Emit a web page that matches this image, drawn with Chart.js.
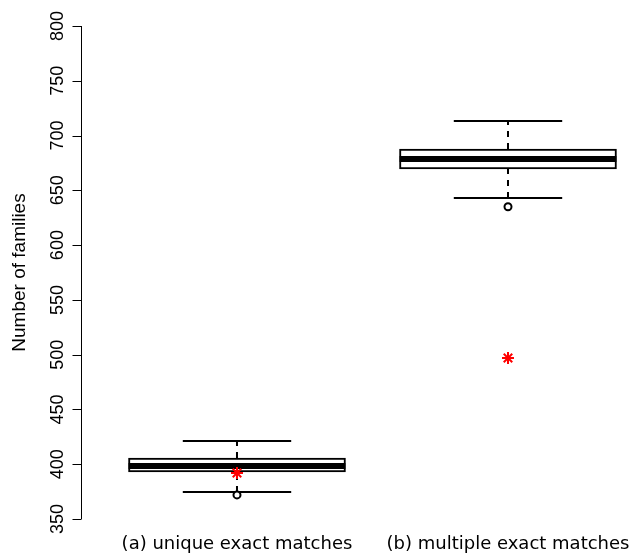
<!DOCTYPE html>
<html>
<head>
<meta charset="utf-8">
<script src="https://cdn.jsdelivr.net/npm/chart.js@4/dist/chart.umd.min.js"></script>
<style>
html,body{margin:0;padding:0;background:#fff;overflow:hidden;}
canvas{display:block;}
</style>
</head>
<body>
<canvas id="c" width="629" height="556"></canvas>
<script>
// ---- data ----
const categories = ['(a) unique exact matches', '(b) multiple exact matches'];
const whiskerLow  = [374.6, 643.0];
const q1          = [392.9, 669.5];
const medians     = [398.4, 678.6];
const q3          = [405.7, 687.7];
const whiskerHigh = [421.2, 713.3];
const outliers    = [[372.0], [635.0]];
const means       = [392.0, 497.0];
const yTicks      = [350, 400, 450, 500, 550, 600, 650, 700, 750, 800];
const yTitle      = 'Number of families';

const BOX_HALF = 0.4, CAP_HALF = 0.2;

const datasets = [];
// boxes (floating bars)
datasets.push({
  type: 'bar',
  order: 10,
  data: categories.map((c, i) => ({x: i + 1, y: [q1[i], q3[i]]})),
  backgroundColor: '#ffffff',
  borderColor: '#000000',
  borderWidth: 2,
  borderSkipped: false,
  barThickness: 217
});
categories.forEach((c, i) => {
  const x = i + 1;
  // median
  datasets.push({type: 'line', order: 1, data: [{x: x - BOX_HALF, y: medians[i]}, {x: x + BOX_HALF, y: medians[i]}],
    borderColor: '#000', borderWidth: 6, pointRadius: 0, borderCapStyle: 'butt'});
  // whiskers (dashed)
  datasets.push({type: 'line', order: 2, data: [{x: x, y: q3[i]}, {x: x, y: whiskerHigh[i]}],
    borderColor: '#000', borderWidth: 2, pointRadius: 0, borderDash: [6, 6]});
  datasets.push({type: 'line', order: 2, data: [{x: x, y: whiskerLow[i]}, {x: x, y: q1[i]}],
    borderColor: '#000', borderWidth: 2, pointRadius: 0, borderDash: [6, 6]});
  // caps
  datasets.push({type: 'line', order: 2, data: [{x: x - CAP_HALF, y: whiskerHigh[i]}, {x: x + CAP_HALF, y: whiskerHigh[i]}],
    borderColor: '#000', borderWidth: 2, pointRadius: 0});
  datasets.push({type: 'line', order: 2, data: [{x: x - CAP_HALF, y: whiskerLow[i]}, {x: x + CAP_HALF, y: whiskerLow[i]}],
    borderColor: '#000', borderWidth: 2, pointRadius: 0});
});
// outliers
datasets.push({
  type: 'scatter', order: 0,
  data: outliers.flatMap((arr, i) => arr.map(v => ({x: i + 1, y: v}))),
  pointStyle: 'circle', pointRadius: 3.5, pointBorderWidth: 2,
  pointBorderColor: '#000', pointBackgroundColor: '#fff'
});
// means (red asterisks)
datasets.push({
  type: 'scatter', order: 0,
  data: means.map((v, i) => ({x: i + 1, y: v})),
  pointStyle: 'star', pointRadius: 6, pointBorderWidth: 2,
  pointBorderColor: '#ff0000', pointBackgroundColor: '#ff0000'
});

const axisPlugin = {
  id: 'rAxes',
  afterDraw(chart) {
    const ctx = chart.ctx, ys = chart.scales.y, xs = chart.scales.x, area = chart.chartArea;
    ctx.save();
    ctx.strokeStyle = '#000';
    ctx.lineWidth = 1;
    const x0 = Math.round(area.left) + 0.5;
    const yTop = ys.getPixelForValue(yTicks[yTicks.length - 1]);
    const yBot = ys.getPixelForValue(yTicks[0]);
    ctx.beginPath();
    ctx.moveTo(x0, yTop); ctx.lineTo(x0, yBot);
    yTicks.forEach(t => {
      const py = Math.round(ys.getPixelForValue(t)) + 0.5;
      ctx.moveTo(x0, py); ctx.lineTo(x0 - 9, py);
    });
    ctx.stroke();
    // tick labels (rotated)
    ctx.fillStyle = '#000';
    ctx.font = '18px "Liberation Sans", Arial, sans-serif';
    ctx.textAlign = 'center';
    ctx.textBaseline = 'alphabetic';
    yTicks.forEach(t => {
      const py = ys.getPixelForValue(t);
      ctx.save();
      ctx.translate(63, py);
      ctx.rotate(-Math.PI / 2);
      ctx.fillText(String(t), 0, 0);
      ctx.restore();
    });
    // title
    ctx.save();
    ctx.font = '19px "Liberation Sans", Arial, sans-serif';
    ctx.translate(25, (yTop + yBot) / 2);
    ctx.rotate(-Math.PI / 2);
    ctx.fillText(yTitle, 0, 0);
    ctx.restore();
    // category labels
    ctx.font = '18px "DejaVu Sans", sans-serif';
    categories.forEach((c, i) => {
      ctx.fillText(c, xs.getPixelForValue(i + 1), 549);
    });
    ctx.restore();
  }
};

new Chart(document.getElementById('c'), {
  data: {datasets},
  options: {
    responsive: false,
    animation: false,
    layout: {autoPadding: false, padding: {left: 81, top: 26, right: 0, bottom: 37}},
    plugins: {legend: {display: false}, tooltip: {enabled: false}},
    scales: {
      x: {type: 'linear', min: 0.4244, max: 2.4465, offset: false, display: false},
      y: {type: 'linear', min: 350, max: 800, display: false}
    }
  },
  plugins: [axisPlugin]
});
</script>
</body>
</html>
